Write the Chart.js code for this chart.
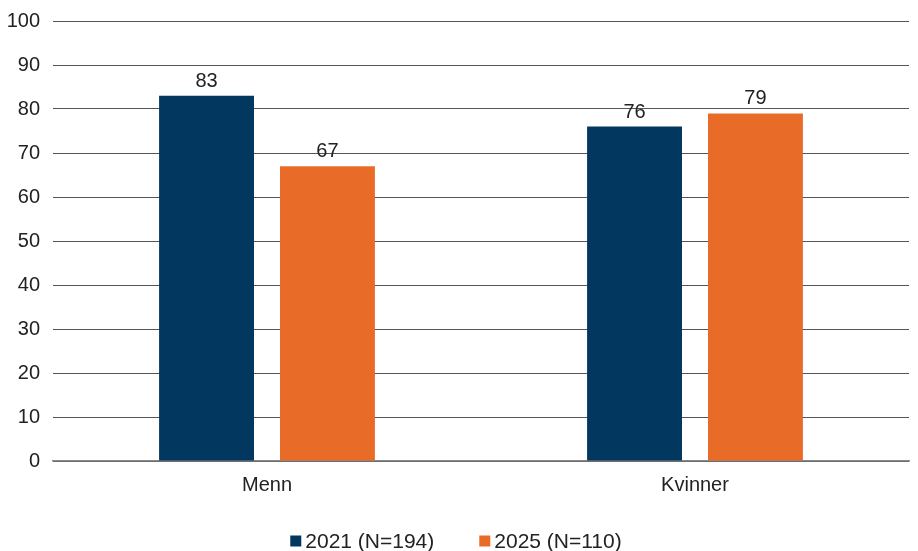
<!DOCTYPE html>
<html>
<head>
<meta charset="utf-8">
<script src="https://cdn.jsdelivr.net/npm/chart.js@4"></script>
<style>
  html, body { margin: 0; padding: 0; background: #fff; }
  #wrap { width: 918px; height: 551px; }
</style>
</head>
<body>
<div id="wrap"><canvas id="myChart"></canvas></div>
<script>
// data
var categories = ['Menn', 'Kvinner'];
var seriesNames = ['2021 (N=194)', '2025 (N=110)'];
var values2021 = [83, 76];
var values2025 = [67, 79];
var yTicks = [0, 10, 20, 30, 40, 50, 60, 70, 80, 90, 100];

var blue = '#02375f';
var orange = '#e86c27';
var fontFamily = '"Liberation Sans", Arial, sans-serif';

// draw the value on top of each bar
var valueLabels = {
  id: 'valueLabels',
  afterDatasetsDraw: function (chart) {
    var ctx = chart.ctx;
    ctx.save();
    ctx.font = '20px ' + fontFamily;
    ctx.fillStyle = '#222';
    ctx.textAlign = 'center';
    ctx.textBaseline = 'alphabetic';
    chart.data.datasets.forEach(function (ds, i) {
      chart.getDatasetMeta(i).data.forEach(function (bar, j) {
        ctx.fillText(ds.data[j], bar.x, bar.y - 9);
      });
    });
    ctx.restore();
  }
};

// legend at the bottom: small square + text, centred
var bottomLegend = {
  id: 'bottomLegend',
  afterDraw: function (chart) {
    var ctx = chart.ctx;
    var box = 11, gap = 4, itemGap = 45, y = 541;
    ctx.save();
    ctx.font = '21px ' + fontFamily;
    ctx.textBaseline = 'middle';
    ctx.textAlign = 'left';
    var items = chart.data.datasets.map(function (ds) {
      return { text: ds.label, color: ds.backgroundColor, w: box + gap + ctx.measureText(ds.label).width };
    });
    var total = items.reduce(function (s, it) { return s + it.w; }, 0) + itemGap * (items.length - 1);
    var x = (chart.width - total) / 2 - 3;
    items.forEach(function (it) {
      ctx.fillStyle = it.color;
      ctx.fillRect(x, y - box / 2, box, box);
      ctx.fillStyle = '#222';
      ctx.fillText(it.text, x + box + gap, y + 1);
      x += it.w + itemGap;
    });
    ctx.restore();
  }
};

Chart.defaults.font.family = fontFamily;
Chart.defaults.font.size = 20;
Chart.defaults.color = '#222';

var ctx = document.getElementById('myChart').getContext('2d');
window.myChart = new Chart(ctx, {
  type: 'bar',
  data: {
    labels: categories,
    datasets: [{
      label: seriesNames[0],
      data: values2021,
      backgroundColor: blue,
      categoryPercentage: 0.565,
      barPercentage: 0.785
    }, {
      label: seriesNames[1],
      data: values2025,
      backgroundColor: orange,
      categoryPercentage: 0.565,
      barPercentage: 0.785
    }]
  },
  options: {
    responsive: true,
    maintainAspectRatio: false,
    animation: false,
    layout: { padding: { left: 6, right: 9, top: 21, bottom: 50 } },
    plugins: {
      legend: { display: false },
      tooltip: { enabled: false }
    },
    scales: {
      x: {
        grid: { display: false },
        border: { color: '#888', width: 1.5 },
        ticks: { padding: 4 }
      },
      y: {
        min: 0,
        max: 100,
        afterBuildTicks: function (axis) {
          axis.ticks = yTicks.map(function (v) { return { value: v }; });
        },
        afterFit: function (axis) {
          axis.width = 47;
          axis.paddingTop = 0;
        },
        grid: { color: '#555', drawTicks: false },
        border: { display: false },
        ticks: { padding: 13 }
      }
    }
  },
  plugins: [valueLabels, bottomLegend]
});
</script>
</body>
</html>
